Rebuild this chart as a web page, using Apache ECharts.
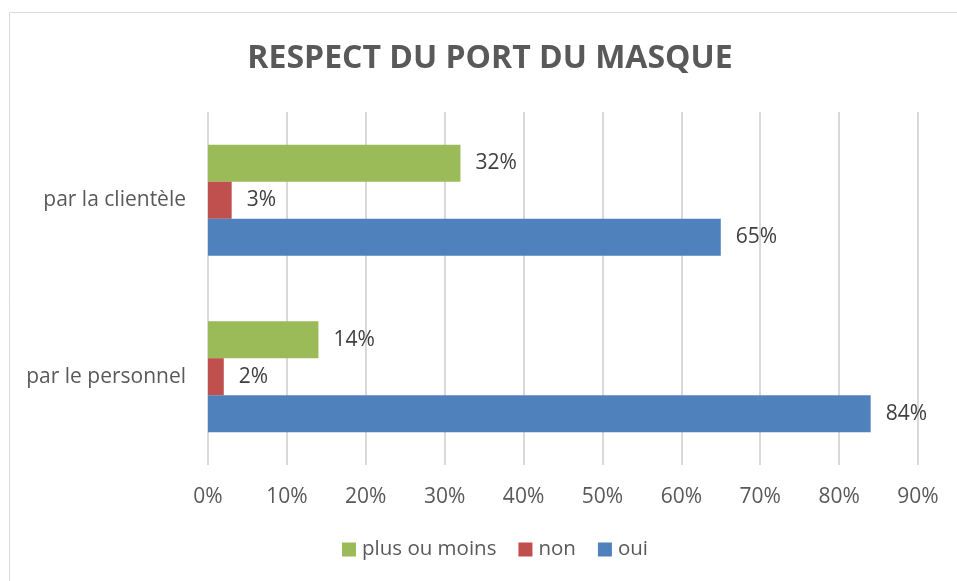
<!DOCTYPE html>
<html>
<head>
<meta charset="utf-8">
<script src="https://cdn.jsdelivr.net/npm/echarts@6/dist/echarts.min.js"></script>
<style>html,body{margin:0;padding:0;background:#fff}#c{width:957px;height:581px}</style>
</head>
<body>
<div id="c"></div>
<script>
const categories = ['par le personnel', 'par la clientèle'];
const seriesNames = ['plus ou moins', 'non', 'oui'];
const plusOuMoins = [14, 32];
const non = [2, 3];
const oui = [84, 65];
const xTicks = [0, 10, 20, 30, 40, 50, 60, 70, 80, 90];
const title = 'RESPECT DU PORT DU MASQUE';

const colors = ['#9BBB59', '#C0504D', '#4F81BD'];
const FONT = '"Open Sans", "DejaVu Sans", sans-serif';
const TXT = '#595959';

const chart = echarts.init(document.getElementById('c'), null, {renderer: 'canvas'});
const values = [plusOuMoins, non, oui];
chart.setOption({
  animation: false,
  color: colors,
  title: {
    text: title, left: 485, top: 38, textAlign: 'center',
    textStyle: {fontFamily: FONT, fontSize: 32, fontWeight: 'bold', color: TXT}
  },
  graphic: [{
    type: 'rect', shape: {x: 9.5, y: 12.5, width: 960, height: 600},
    style: {fill: 'none', stroke: '#D9D9D9', lineWidth: 1}, silent: true
  }],
  legend: {
    data: seriesNames, bottom: 16, left: 337,
    itemWidth: 14, itemHeight: 14, itemGap: 22, icon: 'rect',
    textStyle: {fontFamily: FONT, fontSize: 20.5, color: TXT, padding: [0, 0, 0, 1]}
  },
  grid: {left: 208, right: 39, top: 112, bottom: 116, containLabel: false},
  xAxis: {
    type: 'value', min: xTicks[0], max: xTicks[xTicks.length - 1], interval: 10,
    axisLine: {show: false}, axisTick: {show: false},
    splitLine: {lineStyle: {color: '#D9D9D9', width: 2}},
    axisLabel: {formatter: '{value}%', fontFamily: FONT, fontSize: 21, color: TXT, margin: 22}
  },
  yAxis: {
    type: 'category', data: categories,
    axisLine: {show: false}, axisTick: {show: false},
    axisLabel: {fontFamily: FONT, fontSize: 21, color: TXT, margin: 22}
  },
  series: seriesNames.map((n, i) => ({
    name: n, type: 'bar', data: values[i],
    barGap: '0%', barCategoryGap: '37%',
    itemStyle: {color: colors[i]},
    label: {show: true, position: 'right', distance: 15, formatter: '{c}%',
      fontFamily: FONT, fontSize: 21, color: '#404040'}
  }))
});
</script>
</body>
</html>
